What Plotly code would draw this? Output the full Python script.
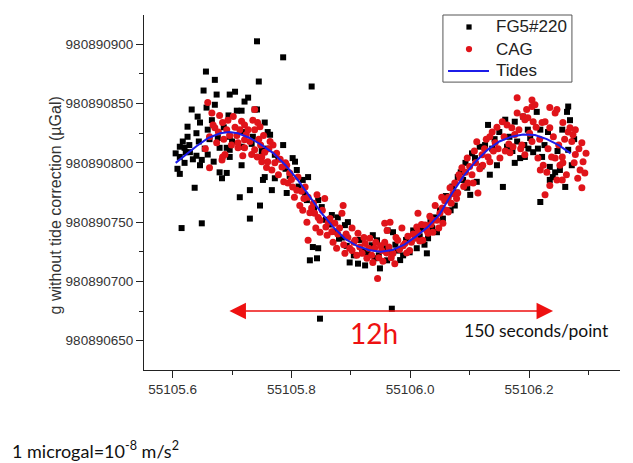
import numpy as np
import plotly.graph_objects as go

BASE = 980890000  # µGal; values below are offsets from this

# ---- FG5#220 (black squares) ----
fg5_t = [55105.605, 55105.608, 55105.612, 55105.612, 55105.612, 55105.615, 55105.617, 55105.620, 55105.620, 55105.622,
         55105.625, 55105.625, 55105.628, 55105.629, 55105.632, 55105.634, 55105.637, 55105.640, 55105.640, 55105.642,
         55105.644, 55105.646, 55105.646, 55105.649, 55105.649, 55105.652, 55105.654, 55105.656, 55105.657, 55105.659,
         55105.659, 55105.662, 55105.666, 55105.669, 55105.671, 55105.671, 55105.674, 55105.676, 55105.679, 55105.679,
         55105.683, 55105.686, 55105.691, 55105.691, 55105.694, 55105.696, 55105.696, 55105.696, 55105.696, 55105.700,
         55105.705, 55105.708, 55105.713, 55105.716, 55105.716, 55105.716, 55105.719, 55105.721, 55105.727, 55105.730,
         55105.730, 55105.733, 55105.735, 55105.738, 55105.742, 55105.742, 55105.745, 55105.747, 55105.750, 55105.752,
         55105.755, 55105.755, 55105.758, 55105.760, 55105.764, 55105.767, 55105.772, 55105.772, 55105.778, 55105.786,
         55105.786, 55105.790, 55105.792, 55105.797, 55105.802, 55105.806, 55105.809, 55105.812, 55105.819, 55105.823,
         55105.826, 55105.828, 55105.831, 55105.834, 55105.836, 55105.838, 55105.843, 55105.845, 55105.845, 55105.848,
         55105.851, 55105.858, 55105.864, 55105.868, 55105.873, 55105.878, 55105.880, 55105.885, 55105.890, 55105.893,
         55105.895, 55105.898, 55105.905, 55105.912, 55105.915, 55105.919, 55105.924, 55105.928, 55105.935, 55105.937,
         55105.940, 55105.944, 55105.947, 55105.949, 55105.955, 55105.961, 55105.962, 55105.966, 55105.969, 55105.971,
         55105.975, 55105.979, 55105.983, 55105.988, 55105.993, 55105.999, 55106.005, 55106.011, 55106.016, 55106.020,
         55106.024, 55106.028, 55106.030, 55106.034, 55106.037, 55106.042, 55106.045, 55106.050, 55106.055, 55106.060,
         55106.064, 55106.068, 55106.071, 55106.075, 55106.078, 55106.080, 55106.085, 55106.089, 55106.093, 55106.096,
         55106.101, 55106.104, 55106.109, 55106.112, 55106.117, 55106.120, 55106.126, 55106.131, 55106.134, 55106.138,
         55106.142, 55106.146, 55106.150, 55106.156, 55106.160, 55106.163, 55106.167, 55106.172, 55106.176, 55106.176,
         55106.180, 55106.185, 55106.190, 55106.192, 55106.193, 55106.198, 55106.202, 55106.199, 55106.207, 55106.213,
         55106.215, 55106.219, 55106.219, 55106.222, 55106.226, 55106.232, 55106.235, 55106.235, 55106.240, 55106.244,
         55106.248, 55106.252, 55106.256, 55106.261, 55106.264, 55106.266, 55106.266, 55106.269, 55106.272, 55106.276]
fg5_g = [808, 795, 813.6, 805, 790.7, 745, 818, 812.7, 800, 809,
         830.5, 822, 815, 809, 845, 803, 779, 825, 806, 839,
         818, 834, 798, 802.5, 749, 861, 812, 877, 846.6, 828,
         807, 820, 836, 801, 870, 849, 857.6, 821, 812.7, 792,
         787, 830, 812.7, 791.5, 840, 857.6, 822, 811, 805, 818,
         860, 844, 771, 844, 813.6, 798, 826, 851.7, 855, 777,
         753, 816, 822, 845, 902.5, 845, 868.6, 764, 810, 785.6,
         834, 788, 812, 826, 823.7, 777, 806.8, 787, 803, 889,
         815, 795, 774.6, 789, 804, 801, 794, 780, 785.6, 773,
         768.6, 788, 717.8, 864.4, 729, 762, 719.5, 768.6, 728, 668.6,
         762.7, 752, 748, 756, 742, 754, 736, 737, 747.5, 730,
         750, 716, 722, 715, 735, 726, 713.5, 724, 730.5, 739,
         719.5, 734.7, 722, 711, 728, 717.8, 743, 725, 677, 741.5,
         731, 726, 718, 722, 735, 724.6, 743, 728, 738, 745,
         731, 723.7, 736.4, 750, 745, 754, 741.5, 760, 753, 772,
         768.6, 760, 780, 764, 775, 788, 792, 785.6, 800, 779,
         773, 808, 804, 784, 813.6, 797, 815, 832, 790, 812,
         820, 798, 826, 779.7, 836.4, 813.6, 822, 810, 834.7, 800,
         818, 804, 839, 815, 805, 828, 821, 812, 809, 843,
         812, 828, 767, 805, 815, 826, 796.6, 785.6, 788, 792,
         810, 794, 828, 779.7, 843, 847.5, 811, 836, 798, 820]

# ---- CAG (red circles) ----
cag_t = [55105.655, 55105.659, 55105.662, 55105.662, 55105.666, 55105.668, 55105.671, 55105.674, 55105.677, 55105.679,
         55105.683, 55105.684, 55105.684, 55105.686, 55105.688, 55105.691, 55105.693, 55105.696, 55105.699, 55105.702,
         55105.705, 55105.708, 55105.710, 55105.710, 55105.713, 55105.716, 55105.718, 55105.721, 55105.721, 55105.721,
         55105.724, 55105.727, 55105.730, 55105.733, 55105.735, 55105.738, 55105.738, 55105.738, 55105.742, 55105.743,
         55105.745, 55105.747, 55105.748, 55105.750, 55105.750, 55105.753, 55105.755, 55105.758, 55105.760, 55105.762,
         55105.764, 55105.767, 55105.769, 55105.772, 55105.775, 55105.778, 55105.781, 55105.784, 55105.787, 55105.790,
         55105.792, 55105.794, 55105.797, 55105.800, 55105.802, 55105.805, 55105.809, 55105.811, 55105.814, 55105.817,
         55105.819, 55105.821, 55105.823, 55105.826, 55105.828, 55105.828, 55105.831, 55105.834, 55105.837, 55105.839,
         55105.841, 55105.843, 55105.845, 55105.848, 55105.848, 55105.852, 55105.856, 55105.858, 55105.860, 55105.862,
         55105.865, 55105.868, 55105.870, 55105.873, 55105.876, 55105.878, 55105.881, 55105.885, 55105.887, 55105.888,
         55105.890, 55105.892, 55105.895, 55105.898, 55105.902, 55105.902, 55105.905, 55105.907, 55105.910, 55105.912,
         55105.915, 55105.919, 55105.922, 55105.924, 55105.927, 55105.930, 55105.932, 55105.935, 55105.937, 55105.940,
         55105.942, 55105.945, 55105.947, 55105.950, 55105.952, 55105.954, 55105.957, 55105.957, 55105.960, 55105.961,
         55105.964, 55105.966, 55105.968, 55105.971, 55105.974, 55105.976, 55105.979, 55105.982, 55105.986, 55105.988,
         55105.991, 55105.994, 55105.996, 55105.999, 55106.002, 55106.005, 55106.008, 55106.011, 55106.013, 55106.013,
         55106.016, 55106.019, 55106.021, 55106.025, 55106.028, 55106.030, 55106.033, 55106.035, 55106.038, 55106.038,
         55106.042, 55106.045, 55106.048, 55106.050, 55106.053, 55106.054, 55106.055, 55106.058, 55106.061, 55106.064,
         55106.064, 55106.067, 55106.069, 55106.072, 55106.075, 55106.078, 55106.080, 55106.082, 55106.084, 55106.087,
         55106.090, 55106.093, 55106.096, 55106.097, 55106.100, 55106.104, 55106.106, 55106.108, 55106.110, 55106.112,
         55106.114, 55106.117, 55106.121, 55106.122, 55106.125, 55106.128, 55106.131, 55106.134, 55106.134, 55106.138,
         55106.140, 55106.143, 55106.146, 55106.148, 55106.151, 55106.155, 55106.158, 55106.160, 55106.163, 55106.166,
         55106.168, 55106.171, 55106.173, 55106.176, 55106.180, 55106.180, 55106.183, 55106.186, 55106.188, 55106.190,
         55106.193, 55106.193, 55106.196, 55106.198, 55106.201, 55106.205, 55106.205, 55106.205, 55106.207, 55106.210,
         55106.212, 55106.215, 55106.218, 55106.219, 55106.222, 55106.224, 55106.227, 55106.227, 55106.230, 55106.232,
         55106.235, 55106.235, 55106.235, 55106.238, 55106.241, 55106.244, 55106.244, 55106.247, 55106.247, 55106.250,
         55106.252, 55106.256, 55106.256, 55106.257, 55106.257, 55106.260, 55106.263, 55106.266, 55106.269, 55106.272,
         55106.274, 55106.276, 55106.278, 55106.278, 55106.282, 55106.284, 55106.286, 55106.289, 55106.289, 55106.291,
         55106.294, 55106.296]
cag_g = [812, 851, 822, 795.8, 842, 832, 829.7, 817, 826, 840,
         802.5, 834, 805, 820, 807, 828, 836, 823, 815, 839,
         830, 823, 817, 812.7, 828, 835, 806, 832, 819.5, 812.7,
         824, 828, 818, 807, 836, 845, 828, 811, 805, 834,
         820, 830.5, 815, 805, 801, 823, 809, 796, 801, 812,
         818, 794, 815, 800, 808, 790, 803, 796.6, 784, 800,
         798, 783, 791.5, 786, 779.7, 771, 777, 788, 764, 776,
         760, 770, 779.7, 750, 771, 734.7, 758, 762, 766, 757.6,
         745, 773, 754, 751.7, 741.5, 760, 770, 746, 739, 750,
         753, 742, 733, 749, 728, 740, 745, 757.6, 764, 731,
         723.7, 740, 737, 728, 745, 726, 733, 734.7, 722, 740.7,
         729, 723.7, 737, 732, 719.5, 728, 736.4, 722, 716, 728,
         733, 702.5, 720, 730, 726, 717, 749, 733, 724, 743,
         729, 750, 720, 723.7, 715, 737, 734.7, 727, 745, 730,
         732, 724, 738, 726, 733, 740, 736.4, 746, 741.5, 757.6,
         734, 748, 734.7, 747.5, 743, 740.7, 755, 748, 751.7, 741.5,
         764, 751.7, 745, 757.6, 771, 762, 749, 768, 760, 758.5,
         771, 779, 766, 774, 783, 770, 774.6, 790, 787, 795.8,
         780, 792, 804, 783, 797, 790, 783, 810, 800, 817.8,
         774.6, 795, 806.8, 798, 812, 820, 805, 801, 822, 826,
         810, 817, 830, 812, 804, 834.7, 822, 810, 832, 816,
         808.5, 829.7, 813.6, 824, 855, 842, 828, 812, 815, 839,
         836.4, 806.8, 845, 838, 825, 847.5, 853, 818, 834.7, 849,
         830, 804, 820, 794, 834, 798, 834.7, 773, 792, 812,
         846.6, 829.7, 781, 805, 822, 842, 804, 845, 785.6, 815,
         798, 805, 785.6, 834, 800, 820, 790, 826, 829.7, 818,
         823.7, 800, 828, 807, 787, 812, 794, 817, 779, 801,
         791.5, 808]

# ---- Tides (blue line) ----
tide_t = [55105.605, 55105.62, 55105.64, 55105.66, 55105.68, 55105.695, 55105.71, 55105.73, 55105.75, 55105.77,
          55105.79, 55105.81, 55105.83, 55105.85, 55105.87, 55105.89, 55105.91, 55105.93, 55105.95, 55105.97,
          55105.99, 55106.01, 55106.03, 55106.05, 55106.07, 55106.09, 55106.11, 55106.13, 55106.15, 55106.17,
          55106.19, 55106.21, 55106.23, 55106.25, 55106.27]
tide_g = [800, 806, 814, 821, 825, 826, 825, 821, 815, 808,
          798, 786, 772, 758, 746, 736, 730, 726.5, 725, 726.5,
          731, 738, 746, 757, 774, 789, 801, 811, 818, 822,
          824, 823.5, 820, 815, 808]

series_names = ["FG5#220", "CAG", "Tides"]
series_colors = ["#000000", "#e0141a", "#1c1ce8"]
x_ticks = [55105.6, 55105.8, 55106.0, 55106.2]
y_ticks = [980890650, 980890700, 980890750, 980890800, 980890850, 980890900]

fig = go.Figure()
fig.add_trace(go.Scatter(x=fg5_t, y=BASE + np.array(fg5_g), mode="markers", name=series_names[0],
                         marker=dict(symbol="square", size=6, color=series_colors[0], line=dict(width=0))))
fig.add_trace(go.Scatter(x=cag_t, y=BASE + np.array(cag_g), mode="markers", name=series_names[1],
                         marker=dict(symbol="circle", size=7, color=series_colors[1], line=dict(width=0))))
fig.add_trace(go.Scatter(x=tide_t, y=BASE + np.array(tide_g), mode="lines", name=series_names[2],
                         line=dict(color=series_colors[2], width=2)))

axis_font = dict(family="Liberation Sans, Arial, sans-serif", size=13.5, color="#333333")
fig.update_layout(
    width=625, height=455,
    margin=dict(l=136, r=13, t=7, b=93),
    paper_bgcolor="white", plot_bgcolor="white",
    showlegend=False,
    xaxis=dict(range=[55105.5517, 55106.3532], tickvals=x_ticks, ticktext=[f"{v:.1f}" for v in x_ticks],
               showgrid=False, zeroline=False, showline=True, linecolor="#222222", linewidth=1.2,
               ticks="outside", ticklen=7, tickcolor="#222222", tickfont=axis_font,
               minor=dict(tickvals=[55105.7, 55105.9, 55106.1, 55106.3], ticks="outside", ticklen=4,
                          tickcolor="#222222", showgrid=False)),
    yaxis=dict(range=[980890625.3, 980890924.7], tickvals=y_ticks, ticktext=[str(v) for v in y_ticks],
               showgrid=False, zeroline=False, showline=True, linecolor="#222222", linewidth=1.2,
               ticks="outside", ticklen=7, tickcolor="#222222", tickfont=axis_font,
               minor=dict(tickvals=[980890675, 980890725, 980890775, 980890825, 980890875], ticks="outside",
                          ticklen=4, tickcolor="#222222", showgrid=False)),
)

# ---- legend (drawn as a framed key in paper coordinates) ----
lg_rows = [0.9662, 0.9042, 0.8423]
fig.add_shape(type="rect", xref="paper", yref="paper", x0=0.628, x1=0.899, y0=0.811, y1=1.0,
              line=dict(color="#555555", width=1), fillcolor="white", layer="below")
sx, hx, hy = 0.6828, 0.0055, 0.0074
fig.add_shape(type="rect", xref="paper", yref="paper", x0=sx - hx, x1=sx + hx,
              y0=lg_rows[0] - hy, y1=lg_rows[0] + hy, line=dict(width=0), fillcolor=series_colors[0])
fig.add_shape(type="circle", xref="paper", yref="paper", x0=sx - 0.0066, x1=sx + 0.0066,
              y0=lg_rows[1] - 0.0088, y1=lg_rows[1] + 0.0088, line=dict(width=0), fillcolor=series_colors[1])
fig.add_shape(type="line", xref="paper", yref="paper", x0=0.6387, x1=0.7248, y0=lg_rows[2], y1=lg_rows[2],
              line=dict(color=series_colors[2], width=2))
for name, yy in zip(series_names, lg_rows):
    fig.add_annotation(text=name, xref="paper", yref="paper", x=0.7353, y=yy, xanchor="left",
                       yanchor="middle", showarrow=False,
                       font=dict(family="Liberation Sans, Arial, sans-serif", size=17, color="#222222"))

# y axis title
fig.add_annotation(text="g without tide correction (µGal)", xref="paper", yref="paper",
                   x=-0.208, y=0.465, textangle=-90, showarrow=False,
                   font=dict(family="Liberation Sans, Arial, sans-serif", size=16, color="#333333"))

# 12h double arrow
fig.add_annotation(x=55106.2405, y=BASE + 675, ax=55105.693, ay=BASE + 675,
                   xref="x", yref="y", axref="x", ayref="y", text="", showarrow=True,
                   arrowside="end+start", arrowhead=2, arrowsize=2.2, arrowwidth=1.5,
                   arrowcolor="#ee1111", standoff=0, startstandoff=0)
fig.add_annotation(text="12h", x=55105.939, y=BASE + 656.5, xref="x", yref="y", showarrow=False,
                   font=dict(family="Lato, sans-serif", size=28, color="#ee1111"))
fig.add_annotation(text="150 seconds/point", x=55106.087, y=BASE + 658.2, xref="x", yref="y",
                   xanchor="left", showarrow=False,
                   font=dict(family="Lato, sans-serif", size=17.5, color="#111111"))
fig.add_annotation(text="1 microgal=10<sup>-8</sup> m/s<sup>2</sup>", x=-0.2815, y=-0.265,
                   xref="paper", yref="paper", xanchor="left", showarrow=False,
                   font=dict(family="Lato, sans-serif", size=18, color="#111111"))

fig.write_html("out.html")
